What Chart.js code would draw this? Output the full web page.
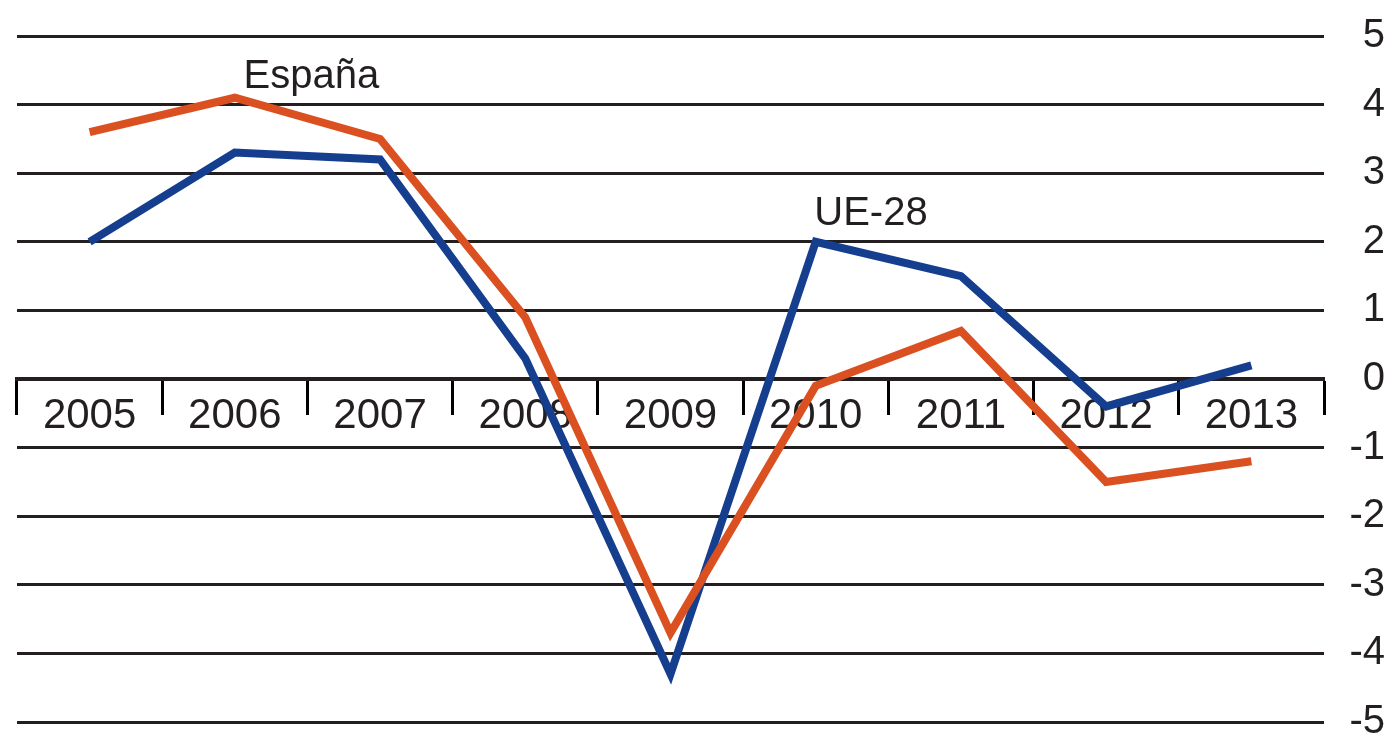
<!DOCTYPE html>
<html>
<head>
<meta charset="utf-8">
<script src="https://cdn.jsdelivr.net/npm/chart.js@4.4.1/dist/chart.umd.min.js"></script>
<style>
  html, body { margin: 0; padding: 0; background: #fff; }
  #wrap { width: 1389px; height: 735px; }
</style>
</head>
<body>
<div id="wrap"><canvas id="ch" width="1389" height="735"></canvas></div>
<script>
// Values
const years = ['2005', '2006', '2007', '2008', '2009', '2010', '2011', '2012', '2013'];
const espana = [3.6, 4.1, 3.5, 0.9, -3.7, -0.1, 0.7, -1.5, -1.2];
const ue28 = [2.0, 3.3, 3.2, 0.3, -4.3, 2.0, 1.5, -0.4, 0.2];
const yMin = -5;
const yMax = 5;

// Series names written next to the lines (anchored in data space: category index, value)
const seriesNames = ['España', 'UE-28'];
const nameIndex = [1.06, 4.99];
const nameValues = [4.41, 2.41];

const INK = '#231f20';
const ORANGE = '#db5020';
const BLUE = '#153f8e';
const FONT = "'Liberation Sans', Arial, sans-serif";

const seriesLabels = {
    id: 'seriesLabels',
    afterDatasetsDraw(chart) {
        const { ctx, scales: { x, y } } = chart;
        ctx.save();
        ctx.fillStyle = INK;
        ctx.font = '40px ' + FONT;
        ctx.textAlign = 'left';
        ctx.textBaseline = 'middle';
        seriesNames.forEach((name, i) => {
            ctx.fillText(name, x.getPixelForValue(nameIndex[i]), y.getPixelForValue(nameValues[i]));
        });
        ctx.restore();
    }
};

new Chart(document.getElementById('ch'), {
    type: 'line',
    data: {
        labels: years,
        datasets: [
            { label: 'España', data: espana, borderColor: ORANGE, borderWidth: 8, tension: 0,
              pointRadius: 0, borderJoinStyle: 'miter', borderCapStyle: 'butt' },
            { label: 'UE-28', data: ue28, borderColor: BLUE, borderWidth: 8, tension: 0,
              pointRadius: 0, borderJoinStyle: 'miter', borderCapStyle: 'butt' }
        ]
    },
    options: {
        responsive: false,
        animation: false,
        layout: { padding: { left: 17, right: 4, top: 36, bottom: 13 } },
        plugins: { legend: { display: false }, tooltip: { enabled: false } },
        scales: {
            x: {
                position: { y: 0 },
                offset: true,
                border: { display: true, color: INK, width: 4 },
                grid: { offset: true, drawOnChartArea: false, drawTicks: true, tickLength: 34,
                        tickWidth: 3, tickColor: '#000' },
                ticks: { color: INK, padding: -22, maxRotation: 0, autoSkip: false,
                         font: { family: FONT, size: 42 } }
            },
            y: {
                position: 'right',
                min: yMin,
                max: yMax,
                border: { display: false },
                grid: { color: INK, lineWidth: 3, drawTicks: false },
                ticks: { stepSize: 1, color: INK, crossAlign: 'far', padding: 0,
                         font: { family: FONT, size: 40 } },
                afterFit(scale) {
                    scale.width = 61;
                    scale.paddingTop = 0;
                    scale.paddingBottom = 0;
                }
            }
        }
    },
    plugins: [seriesLabels]
});
</script>
</body>
</html>
